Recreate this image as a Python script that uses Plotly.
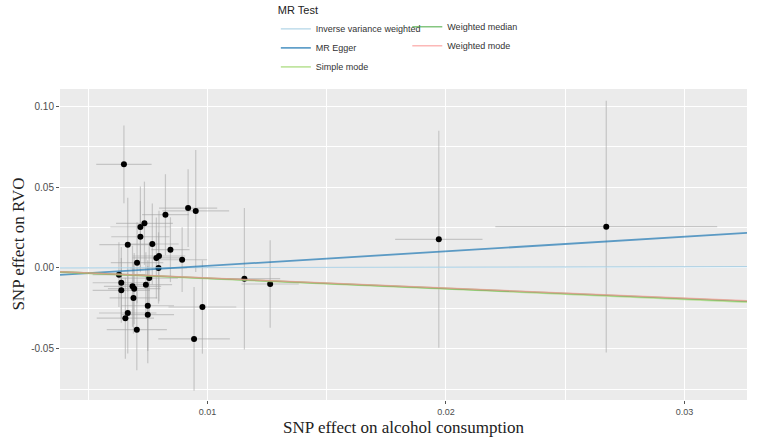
import plotly.graph_objects as go

# SNP effects (exposure: alcohol consumption, outcome: RVO)
snp_exp = [0.00650, 0.00919, 0.00951, 0.00824, 0.00736, 0.00719, 0.00719, 0.00666,
           0.00769, 0.00845, 0.00786, 0.00797, 0.00894, 0.00705, 0.00795, 0.00629,
           0.00756, 0.01155, 0.00639, 0.00742, 0.00686, 0.00693, 0.00639, 0.00690,
           0.00750, 0.00979, 0.00666, 0.00750, 0.00656, 0.00704, 0.00944, 0.01970,
           0.02672, 0.01263]
snp_out = [0.0640, 0.0370, 0.0352, 0.0329, 0.0276, 0.0253, 0.0193, 0.0144,
           0.0148, 0.0113, 0.0062, 0.0074, 0.0051, 0.0033, 0.0000, -0.0041,
           -0.0062, -0.0066, -0.0091, -0.0103, -0.0113, -0.0128, -0.0138, -0.0185,
           -0.0233, -0.0241, -0.0278, -0.0288, -0.0310, -0.0381, -0.0438, 0.0177,
           0.0255, -0.0099]
se_exp = [0.00116, 0.00122, 0.00140, 0.00098, 0.00119, 0.00126, 0.00122, 0.00119,
          0.00110, 0.00080, 0.00100, 0.00110, 0.00105, 0.00110, 0.00120, 0.00110,
          0.00120, 0.00150, 0.00120, 0.00110, 0.00120, 0.00110, 0.00120, 0.00100,
          0.00110, 0.00142, 0.00120, 0.00110, 0.00120, 0.00126, 0.00150, 0.00183,
          0.00465, 0.00120]
se_out = [0.0240, 0.0240, 0.0377, 0.0250, 0.0257, 0.0250, 0.0220, 0.0290,
          0.0250, 0.0200, 0.0250, 0.0280, 0.0200, 0.0250, 0.0220, 0.0200,
          0.0220, 0.0437, 0.0220, 0.0200, 0.0250, 0.0220, 0.0200, 0.0220,
          0.0280, 0.0288, 0.0250, 0.0300, 0.0250, 0.0250, 0.0320, 0.0670,
          0.0777, 0.0270]

# MR methods: slope and intercept
methods = ["Inverse variance weighted", "MR Egger", "Simple mode", "Weighted median", "Weighted mode"]
slopes = [0.025, 0.90, -0.645, -0.630, -0.620]
intercepts = [0.0, -0.0077, 0.0, 0.0, 0.0]
colors = ["#a6cee3", "#1f78b4", "#b2df8a", "#33a02c", "#fb9a99"]
widths = [1.2, 1.8, 1.8, 1.6, 1.6]
opac = [0.85, 0.7, 0.8, 0.6, 0.7]
legend_of = ["legend", "legend", "legend", "legend2", "legend2"]

x_range = [0.00382, 0.03262]
y_range = [-0.0815, 0.1105]

x_ticks = [0.01, 0.02, 0.03]
x_labels = ["0.01", "0.02", "0.03"]
x_minor = [0.005, 0.015, 0.025]
y_ticks = [-0.05, 0.0, 0.05, 0.10]
y_labels = ["-0.05", "0.00", "0.05", "0.10"]
y_minor = [-0.075, -0.025, 0.025, 0.075]

fig = go.Figure()

# invisible trace on the minor-grid axes so they render
fig.add_trace(go.Scatter(x=[x_range[0]], y=[y_range[0]], xaxis="x2", yaxis="y2",
                         mode="markers", marker=dict(opacity=0), showlegend=False,
                         hoverinfo="skip"))

fig.add_trace(go.Scatter(
    x=snp_exp, y=snp_out, mode="markers",
    marker=dict(color="black", size=6),
    error_x=dict(type="data", array=se_exp, color="rgba(160,160,160,0.5)", thickness=1.2, width=0),
    error_y=dict(type="data", array=se_out, color="rgba(160,160,160,0.5)", thickness=1.2, width=0),
    showlegend=False, hoverinfo="skip"))

for m, b, a, c, w, o, lg in zip(methods, slopes, intercepts, colors, widths, opac, legend_of):
    xs = [x_range[0], x_range[1]]
    ys = [a + b * xv for xv in xs]
    fig.add_trace(go.Scatter(x=xs, y=ys, mode="lines", name=m,
                             line=dict(color=c, width=w), opacity=o,
                             legend=lg))

fig.update_layout(
    width=762, height=437,
    margin=dict(l=60, r=15, t=89, b=37, autoexpand=False),
    paper_bgcolor="white", plot_bgcolor="#ebebeb",
    font=dict(family="Liberation Sans, Arial, sans-serif", size=10, color="#4d4d4d"),
    legend=dict(title=dict(text="MR Test", font=dict(size=11, color="#222")),
                xref="container", yref="container", x=0.362, y=1.004,
                xanchor="left", yanchor="top", orientation="v",
                font=dict(size=9, color="#333"), bgcolor="rgba(0,0,0,0)",
                itemwidth=30, tracegroupgap=0),
    legend2=dict(xref="container", yref="container", x=0.5345, y=0.972,
                 xanchor="left", yanchor="top", orientation="v",
                 font=dict(size=9, color="#333"), bgcolor="rgba(0,0,0,0)",
                 itemwidth=30, tracegroupgap=0),
    xaxis=dict(range=x_range, tickmode="array", tickvals=x_ticks, ticktext=x_labels,
               showgrid=True, gridcolor="white", gridwidth=1.2, zeroline=False,
               ticks="outside", ticklen=3, tickcolor="#555",
               title=dict(text="SNP effect on alcohol consumption",
                          font=dict(family="Liberation Serif, Times New Roman, serif", size=17, color="#222"),
                          standoff=6),
               tickfont=dict(size=9, color="#4d4d4d")),
    yaxis=dict(range=y_range, tickmode="array", tickvals=y_ticks, ticktext=y_labels,
               showgrid=True, gridcolor="white", gridwidth=1.2, zeroline=False,
               ticks="outside", ticklen=3, tickcolor="#555",
               tickfont=dict(size=10, color="#4d4d4d")),
    xaxis2=dict(range=x_range, overlaying="x", tickmode="array", tickvals=x_minor,
                showticklabels=False, ticks="", showgrid=True, gridcolor="white",
                gridwidth=0.6, zeroline=False, side="bottom"),
    yaxis2=dict(range=y_range, overlaying="y", tickmode="array", tickvals=y_minor,
                showticklabels=False, ticks="", showgrid=True, gridcolor="white",
                gridwidth=0.6, zeroline=False, side="left"),
    annotations=[dict(text="SNP effect on RVO", xref="paper", yref="paper",
                      x=-0.061, y=0.5, xanchor="center", yanchor="middle",
                      textangle=-90, showarrow=False,
                      font=dict(family="Liberation Serif, Times New Roman, serif", size=17, color="#222"))],
)

fig.write_html("out.html")
